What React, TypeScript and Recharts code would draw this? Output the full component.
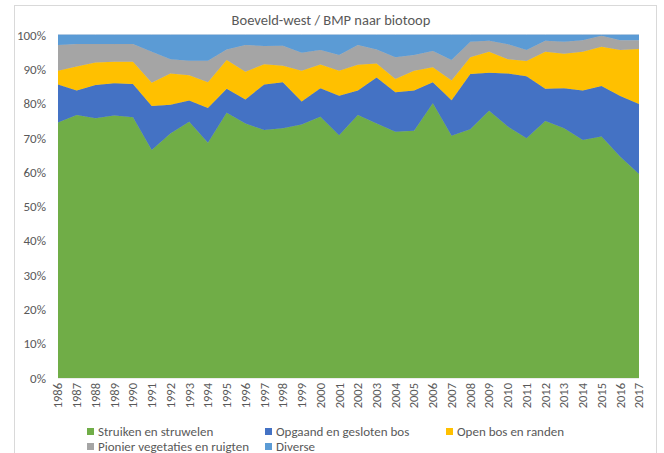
import { Area, AreaChart, CartesianGrid, XAxis, YAxis } from 'recharts';

const years = [
  '1986', '1987', '1988', '1989', '1990', '1991', '1992', '1993', '1994', '1995', '1996',
  '1997', '1998', '1999', '2000', '2001', '2002', '2003', '2004', '2005', '2006', '2007',
  '2008', '2009', '2010', '2011', '2012', '2013', '2014', '2015', '2016', '2017',
];

// percentages per biotope
const struiken = [
  74.5, 76.7, 75.7, 76.5, 76.0, 66.5, 71.3, 74.7, 68.6, 77.3, 74.2,
  72.3, 72.8, 73.9, 76.2, 70.8, 76.7, 74.2, 71.8, 72.1, 80.1, 70.6,
  72.5, 77.9, 73.3, 69.9, 74.9, 72.8, 69.4, 70.4, 64.5, 59.5,
];
const opgaand = [
  11.1, 7.1, 9.7, 9.4, 9.7, 12.8, 8.4, 6.2, 10.1, 7.0, 7.0,
  13.3, 13.4, 6.7, 8.3, 11.5, 7.1, 13.4, 11.5, 11.7, 6.1, 10.4,
  16.1, 11.1, 15.5, 18.1, 9.4, 11.7, 14.4, 14.7, 17.7, 20.4,
];
const openBos = [
  4.0, 7.0, 6.6, 6.3, 6.5, 6.8, 9.1, 7.4, 7.5, 8.4, 8.1,
  5.9, 4.8, 9.0, 6.9, 7.3, 7.5, 4.1, 3.9, 5.8, 4.4, 5.7,
  4.9, 6.1, 4.1, 4.4, 10.8, 10.0, 11.3, 11.5, 13.4, 16.0,
];
const pionier = [
  7.5, 6.6, 5.4, 5.2, 5.2, 9.0, 4.1, 4.2, 6.3, 3.1, 7.8,
  5.3, 5.9, 5.2, 4.2, 4.6, 5.8, 4.1, 6.3, 4.6, 4.7, 6.0,
  4.5, 3.2, 4.4, 3.2, 3.2, 3.5, 3.4, 3.2, 2.9, 2.6,
];
const diverse = [
  2.9, 2.6, 2.6, 2.6, 2.6, 4.9, 7.1, 7.5, 7.5, 4.2, 2.9,
  3.2, 3.1, 5.2, 4.4, 5.8, 2.9, 4.2, 6.5, 5.8, 4.7, 7.3,
  2.0, 1.7, 2.7, 4.4, 1.7, 2.0, 1.5, 0.2, 1.5, 1.5,
];

const yTicks = [0, 0.1, 0.2, 0.3, 0.4, 0.5, 0.6, 0.7, 0.8, 0.9, 1];

const series = [
  { key: 'struiken', name: 'Struiken en struwelen', color: '#70AD47' },
  { key: 'opgaand', name: 'Opgaand en gesloten bos', color: '#4472C4' },
  { key: 'openBos', name: 'Open bos en randen', color: '#FFC000' },
  { key: 'pionier', name: 'Pionier vegetaties en ruigten', color: '#A5A5A5' },
  { key: 'diverse', name: 'Diverse', color: '#5B9BD5' },
];

const data = years.map((year, i) => ({
  year,
  struiken: struiken[i],
  opgaand: opgaand[i],
  openBos: openBos[i],
  pionier: pionier[i],
  diverse: diverse[i],
}));

const FONT = "Carlito, Calibri, 'Liberation Sans', sans-serif";
const TEXT = '#595959';

const YearTick = ({ x, y, payload }: any) => (
  <text
    x={x}
    y={y}
    dy="0.35em"
    textAnchor="end"
    transform={`rotate(-90, ${x}, ${y})`}
    fill={TEXT}
    fontSize={12.5}
    fontFamily={FONT}
  >
    {payload.value}
  </text>
);

// legend sits in an excel-like 3 column grid
const legendCols = [87, 265, 446];
const legendRows = [431, 446];

export default function App() {
  return (
    <div
      style={{
        position: 'absolute',
        left: 0,
        top: 0,
        width: 664,
        height: 453,
        background: '#fff',
        overflow: 'hidden',
        fontFamily: FONT,
      }}
    >
      <div
        style={{
          position: 'absolute',
          left: 14,
          top: 5,
          width: 641,
          height: 470,
          border: '1px solid #D9D9D9',
        }}
      />
      <div
        style={{
          position: 'absolute',
          left: 0,
          top: 11,
          width: 662,
          textAlign: 'center',
          fontSize: 14.5,
          color: TEXT,
        }}
      >
        Boeveld-west / BMP naar biotoop
      </div>

      <div style={{ position: 'absolute', left: 0, top: 0 }}>
        <AreaChart
          width={664}
          height={453}
          data={data}
          stackOffset="expand"
          margin={{ top: 35, right: 25, left: 0, bottom: 35 }}
        >
          <CartesianGrid stroke="#D9D9D9" vertical={false} />
          <XAxis
            dataKey="year"
            interval={0}
            height={40}
            tickSize={0}
            tickMargin={5}
            axisLine={false}
            tickLine={false}
            tick={<YearTick />}
          />
          <YAxis
            width={58}
            domain={[0, 1]}
            ticks={yTicks}
            tickSize={0}
            tickMargin={12}
            axisLine={false}
            tickLine={false}
            tick={{ fill: TEXT, fontSize: 13, fontFamily: FONT }}
            tickFormatter={(v) => `${Math.round(v * 100)}%`}
          />
          {series.map((s) => (
            <Area
              key={s.key}
              type="linear"
              dataKey={s.key}
              name={s.name}
              stackId="a"
              stroke={s.color}
              strokeWidth={0.8}
              fill={s.color}
              fillOpacity={1}
              isAnimationActive={false}
            />
          ))}
        </AreaChart>
      </div>

      {series.map((s, i) => (
        <div
          key={s.key}
          style={{
            position: 'absolute',
            left: legendCols[i % 3],
            top: legendRows[Math.floor(i / 3)] - 8,
            height: 16,
            display: 'flex',
            alignItems: 'center',
            fontSize: 13,
            color: TEXT,
            whiteSpace: 'nowrap',
          }}
        >
          <span
            style={{
              display: 'inline-block',
              width: 7,
              height: 7,
              background: s.color,
              marginRight: 4,
            }}
          />
          {s.name}
        </div>
      ))}
    </div>
  );
}
